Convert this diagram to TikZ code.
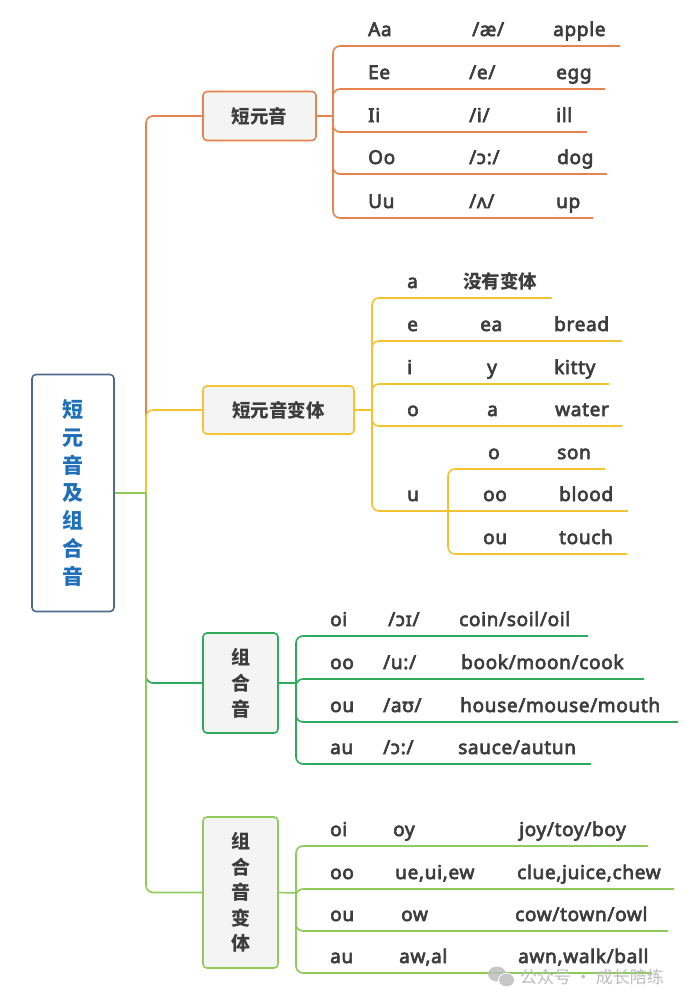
\documentclass[tikz,border=0pt]{standalone}
\usepackage{fontspec}
\setmainfont{Noto Sans}[AutoFakeBold=3.4, LetterSpace=3.5]
\newfontfamily\cjk{Noto Sans CJK SC}
\definecolor{corange}{HTML}{E8834F}
\definecolor{cyellow}{HTML}{F4C430}
\definecolor{cdgreen}{HTML}{2DAA5C}
\definecolor{clgreen}{HTML}{8FCB5B}
\definecolor{crootb}{HTML}{4F6A8F}
\definecolor{croott}{HTML}{1F70B8}
\definecolor{cfill}{HTML}{F4F4F4}
\definecolor{ctxt}{HTML}{3D3D3D}
\definecolor{cwm}{HTML}{BDBDBD}
\tikzset{
  conn/.style={line width=1.6pt, rounded corners=7pt},
  lbl/.style={anchor=base west, inner sep=0pt, text=ctxt, font=\fontsize{19}{20}\selectfont\bfseries},
  clbl/.style={anchor=base west, inner sep=0pt, text=ctxt, font=\fontsize{18.5}{20}\selectfont\cjk\bfseries},
  topic/.style={draw, fill=cfill, line width=1.6pt, rounded corners=4pt, inner sep=0pt, text=ctxt, align=center},
  rootbox/.style={draw=crootb, fill=white, line width=1.6pt, rounded corners=4pt, inner sep=0pt, text=croott, align=center,
     font=\fontsize{21}{27.8}\selectfont\cjk\bfseries},
  wm/.style={anchor=west, inner sep=0pt, text=cwm, font=\fontsize{17}{20}\selectfont\cjk}
}
\begin{document}
\begin{tikzpicture}[x=1pt,y=-1pt]
\useasboundingbox (0,0) rectangle (699,1005);

% ---------- main nodes ----------
\node[rootbox, minimum width=82pt, minimum height=237pt] (root) at (73,493) {短\\元\\音\\及\\组\\合\\音};
\node[topic, draw=corange, minimum width=113pt, minimum height=49pt, font=\fontsize{18.5}{20}\selectfont\cjk\bfseries] (b1) at (259.5,116) {短元音};
\node[topic, draw=cyellow, minimum width=151pt, minimum height=48pt, font=\fontsize{18.5}{20}\selectfont\cjk\bfseries] (b2) at (278.5,410) {短元音变体};
\node[topic, draw=cdgreen, minimum width=75pt, minimum height=100pt, font=\fontsize{19}{26}\selectfont\cjk\bfseries] (b3) at (240.5,683) {组\\合\\音};
\node[topic, draw=clgreen, minimum width=75pt, minimum height=151pt, font=\fontsize{19}{25.5}\selectfont\cjk\bfseries] (b4) at (240.5,892.5) {组\\合\\音\\变\\体};

% ---------- coordinates ----------
\coordinate (tr) at (146,493);
\coordinate (j1) at (333,116);
\coordinate (j2) at (372,410);
\coordinate (j3) at (296,683);
\coordinate (j4) at (296,893);
\coordinate (ju) at (448,511);
% section 1 line ends
\coordinate (e1a) at (620,46);
\coordinate (e1b) at (605,89);
\coordinate (e1c) at (587,132);
\coordinate (e1d) at (607,174);
\coordinate (e1e) at (593,218);
% section 2 line ends
\coordinate (e2a) at (552,298);
\coordinate (e2b) at (622,341);
\coordinate (e2c) at (609,384);
\coordinate (e2d) at (622,426);
\coordinate (e2s) at (605,469);
\coordinate (e2u) at (628,511);
\coordinate (e2t) at (627,554);
% section 3 line ends
\coordinate (e3a) at (588,636);
\coordinate (e3b) at (644,679);
\coordinate (e3c) at (678,722);
\coordinate (e3d) at (591,764);
% section 4 line ends
\coordinate (e4a) at (648,846);
\coordinate (e4b) at (674,889);
\coordinate (e4c) at (668,931);
\coordinate (e4d) at (652,973);

% ---------- trunk ----------
\draw[conn, corange] (tr) |- (b1.west);
\draw[conn, cyellow] (tr) |- (b2.west);
\draw[conn, cdgreen] (tr) |- (b3.west);
\draw[conn, clgreen] (tr) |- (b4.west);
\draw[conn, clgreen] (root.east) -- (tr);

% ---------- section 1 ----------
\draw[conn, corange] (b1.east) -- (j1);
\foreach \e in {e1a,e1b,e1c,e1d,e1e} \draw[conn, corange] (j1) |- (\e);

% ---------- section 2 ----------
\draw[conn, cyellow] (b2.east) -- (j2);
\foreach \e in {e2a,e2b,e2c,e2d} \draw[conn, cyellow] (j2) |- (\e);
\draw[conn, cyellow] (j2) |- (ju);
\draw[conn, cyellow] (ju) -- (e2u);
\draw[conn, cyellow] (ju) |- (e2s);
\draw[conn, cyellow] (ju) |- (e2t);

% ---------- section 3 ----------
\draw[conn, cdgreen] (b3.east) -- (j3);
\foreach \e in {e3a,e3b,e3c,e3d} \draw[conn, cdgreen] (j3) |- (\e);

% ---------- section 4 ----------
\draw[conn, clgreen] (b4.east) -- (j4);
\foreach \e in {e4a,e4b,e4c,e4d} \draw[conn, clgreen] (j4) |- (\e);

% ---------- texts section 1 ----------
\node[lbl] (t1a1) at (368,36) {Aa};
\node[lbl] (t1a2) at (472,36) {/æ/};
\node[lbl] (t1a3) at (553,36) {apple};
\node[lbl] (t1b1) at (368,79) {Ee};
\node[lbl] (t1b2) at (469,79) {/e/};
\node[lbl] (t1b3) at (556,79) {egg};
\node[lbl] (t1c1) at (368,122) {Ii};
\node[lbl] (t1c2) at (469,122) {/i/};
\node[lbl] (t1c3) at (556,122) {ill};
\node[lbl] (t1d1) at (368,164) {Oo};
\node[lbl] (t1d2) at (469,164) {/ɔ:/};
\node[lbl] (t1d3) at (557,164) {dog};
\node[lbl] (t1e1) at (368,208) {Uu};
\node[lbl] (t1e2) at (469,208) {/ʌ/};
\node[lbl] (t1e3) at (556,208) {up};

% ---------- texts section 2 ----------
\node[lbl] (t2a1) at (407,288) {a};
\node[clbl] (t2a2) at (463,288) {没有变体};
\node[lbl] (t2b1) at (407,331) {e};
\node[lbl] (t2b2) at (480,331) {ea};
\node[lbl] (t2b3) at (554,331) {bread};
\node[lbl] (t2c1) at (407,374) {i};
\node[lbl] (t2c2) at (487,374) {y};
\node[lbl] (t2c3) at (554,374) {kitty};
\node[lbl] (t2d1) at (407,416) {o};
\node[lbl] (t2d2) at (487,416) {a};
\node[lbl] (t2d3) at (555,416) {water};
\node[lbl] (t2s2) at (488,459) {o};
\node[lbl] (t2s3) at (557,459) {son};
\node[lbl] (t2u1) at (407,501) {u};
\node[lbl] (t2u2) at (483,501) {oo};
\node[lbl] (t2u3) at (559,501) {blood};
\node[lbl] (t2t2) at (483,544) {ou};
\node[lbl] (t2t3) at (559,544) {touch};

% ---------- texts section 3 ----------
\node[lbl] (t3a1) at (330,626) {oi};
\node[lbl] (t3a2) at (388,626) {/ɔɪ/};
\node[lbl] (t3a3) at (459,626) {coin/soil/oil};
\node[lbl] (t3b1) at (330,669) {oo};
\node[lbl] (t3b2) at (383,669) {/u:/};
\node[lbl] (t3b3) at (461,669) {book/moon/cook};
\node[lbl] (t3c1) at (330,712) {ou};
\node[lbl] (t3c2) at (383,712) {/aʊ/};
\node[lbl] (t3c3) at (460,712) {house/mouse/mouth};
\node[lbl] (t3d1) at (330,754) {au};
\node[lbl] (t3d2) at (383,754) {/ɔ:/};
\node[lbl] (t3d3) at (458,754) {sauce/autun};

% ---------- texts section 4 ----------
\node[lbl] (t4a1) at (330,836) {oi};
\node[lbl] (t4a2) at (393,836) {oy};
\node[lbl] (t4a3) at (519,836) {joy/toy/boy};
\node[lbl] (t4b1) at (330,879) {oo};
\node[lbl] (t4b2) at (395,879) {ue,ui,ew};
\node[lbl] (t4b3) at (517,879) {clue,juice,chew};
\node[lbl] (t4c1) at (330,921) {ou};
\node[lbl] (t4c2) at (401,921) {ow};
\node[lbl] (t4c3) at (515,921) {cow/town/owl};
\node[lbl] (t4d1) at (330,963) {au};
\node[lbl] (t4d2) at (399,963) {aw,al};
\node[lbl] (t4d3) at (518,963) {awn,walk/ball};

% ---------- watermark ----------
\fill[cwm, opacity=0.85] (497,974) ellipse [x radius=9, y radius=7.5];
\fill[white] (506.5,980) ellipse [x radius=8.5, y radius=7.2];
\fill[cwm, opacity=0.85] (506.5,980) ellipse [x radius=7.5, y radius=6.3];
\node[wm] (wmark) at (520,977) {公众号 · 成长陪练};
\end{tikzpicture}
\end{document}
